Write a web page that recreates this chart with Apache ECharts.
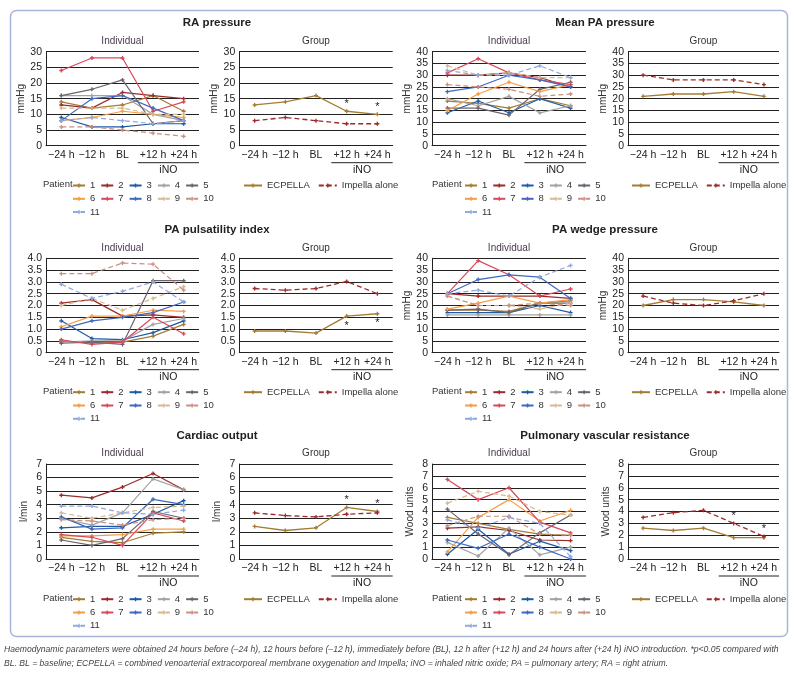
<!DOCTYPE html>
<html><head><meta charset="utf-8">
<script src="https://cdn.jsdelivr.net/npm/echarts@6/dist/echarts.min.js"></script>
<style>html,body{margin:0;padding:0;background:#fff}#c{width:796px;height:679px}</style>
</head><body><div id="c"></div>
<script>
// ---------- DATA ----------
const timepoints = ['\u221224 h', '\u221212 h', 'BL', '+12 h', '+24 h'];
const patientNames = ['1','2','3','4','5','6','7','8','9','10','11'];
const groupNames = ['ECPELLA', 'Impella alone'];

const raPatients = [
  [14,12,13,16,11],[13,12,17,16,15],[9,6,6,7,7],[16,16,16,10,8],[16,18,21,7,8],
  [8,9,11,10,9],[24,28,28,11,14],[8,15,16,12,8],[12,12,12,10,10],[6,6,5,4,3],[8,9,8,7,8]
];
const raEcpella = [13,14,16,11,10];
const raImpella = [8,9,8,7,7];

const mpapPatients = [
  [19,18,16,20,17],[30,30,31,29,25],[14,19,14,20,16],[20,17,21,14,17],[16,16,13,24,27],
  [15,22,27,23,26],[31,37,31,28,26],[23,25,30,28,25],[34,30,31,29,29],[26,25,24,21,22],[32,30,30,34,29]
];
const mpapEcpella = [21,22,22,23,21];
const mpapImpella = [30,28,28,28,26];

const papiPatients = [
  [0.5,0.4,0.45,0.7,1.2],[2.1,2.25,1.55,1.6,1.5],[1.35,0.6,0.55,0.85,1.35],[0.45,0.5,0.5,1.2,1.45],
  [0.4,0.45,0.35,3.05,3.05],[1.1,1.55,1.55,1.8,1.75],[0.55,0.35,0.45,1.5,0.8],[1.0,1.35,1.5,1.7,2.15],
  [2.0,2.3,1.8,2.3,2.8],[3.35,3.35,3.8,3.75,2.65],[2.9,2.3,2.6,3.0,2.15]
];
const papiEcpella = [0.92,0.92,0.83,1.55,1.65];
const papiImpella = [2.72,2.65,2.72,3.02,2.5];

const wedgePatients = [
  [18,18,17.5,21,22],[25,24,24,24,23],[17,17,17,20,17],[16,16,16,16,16],[18,18.5,17,21,21],
  [18.5,21,24,21,22.5],[25,39,33,24,27],[25,31,33,32,23],[24,20,20,18.5,21],[24,20,20,21,20],[25,26.5,24,32,37]
];
const wedgeEcpella = [20,22.5,22.5,21.5,20];
const wedgeImpella = [24,21,20,22,25];

const coPatients = [
  [1.6,1.3,1.2,1.9,2.0],[4.7,4.5,5.3,6.3,5.1],[2.3,2.4,2.4,3.3,4.3],[3.0,2.5,3.4,5.9,5.1],
  [1.4,1.0,1.5,3.5,3.0],[1.7,1.7,1.8,2.2,2.2],[1.8,1.6,1.0,3.4,2.8],[3.1,2.2,2.3,4.4,4.0],
  [3.4,3.0,3.4,3.8,3.9],[2.9,2.8,2.5,2.9,3.0],[3.9,3.9,3.4,3.3,3.6]
];
const coEcpella = [2.4,2.1,2.3,3.8,3.5];
const coImpella = [3.4,3.2,3.1,3.3,3.4];

const pvrPatients = [
  [3.5,3.0,2.5,2.1,2.0],[2.6,2.7,2.4,1.6,1.55],[0.4,2.5,0.4,1.5,0.7],[1.4,0.25,2.6,0.35,1.0],
  [4.2,2.1,0.35,2.2,3.7],[0.6,3.5,5.0,3.2,4.1],[6.7,5.0,6.0,3.1,2.2],[1.6,0.9,2.1,1.0,0.0],
  [4.7,5.7,5.3,4.0,3.7],[2.8,3.6,3.6,2.1,2.0],[3.3,2.6,3.5,3.0,0.2]
];
const pvrEcpella = [2.6,2.4,2.6,1.8,1.8];
const pvrImpella = [3.5,3.9,4.1,3.0,1.9];

// significant (*p<0.05 vs BL) time-point indices
const sigIndices = [3, 4];

// ---------- STYLE / LAYOUT ----------
const FONT = "'Liberation Sans Narrow', 'Liberation Sans', Arial, sans-serif";
const patientColors = ['#a57c35','#9e2b2b','#1e5aa6','#a3a3a3','#6d6370','#f59d45','#d9495b','#3e69c2','#d8b98b','#c98f82','#8fa8dc'];
const patientDashed = [false,false,false,false,false,false,false,false,true,true,true];
const groupColors = ['#a57c35', '#9e2b2b'];
const PLUS = 'path://M2,0h2v2h2v2h-2v2h-2v-2h-2v-2h2z';

const panels = [
  {title:'RA pressure', unit:'mmHg', max:30, interval:5, dec:0, ind:raPatients, ec:raEcpella, im:raImpella, sigSeries:0, sigPos:'top', col:0, row:0},
  {title:'Mean PA pressure', unit:'mmHg', max:40, interval:5, dec:0, ind:mpapPatients, ec:mpapEcpella, im:mpapImpella, sigSeries:-1, col:1, row:0},
  {title:'PA pulsatility index', unit:'', max:4, interval:0.5, dec:1, ind:papiPatients, ec:papiEcpella, im:papiImpella, sigSeries:0, sigPos:'bottom', col:0, row:1},
  {title:'PA wedge pressure', unit:'mmHg', max:40, interval:5, dec:0, ind:wedgePatients, ec:wedgeEcpella, im:wedgeImpella, sigSeries:-1, col:1, row:1},
  {title:'Cardiac output', unit:'l/min', max:7, interval:1, dec:0, ind:coPatients, ec:coEcpella, im:coImpella, sigSeries:0, sigPos:'top', col:0, row:2},
  {title:'Pulmonary vascular resistance', unit:'Wood units', max:8, interval:1, dec:0, ind:pvrPatients, ec:pvrEcpella, im:pvrImpella, sigSeries:1, sigPos:'top', col:1, row:2}
];

const cols = [
  {titleX:217, ind:{left:46, width:153}, grp:{left:239.3, width:153.4}, patientX:43, legLeft:72, grpLegLeft:243},
  {titleX:605, ind:{left:432, width:154}, grp:{left:628, width:151}, patientX:432, legLeft:464, grpLegLeft:631}
];
const rows = [
  {top:51.7, h:94, titleY:23, subY:41, legY:184},
  {top:258.3, h:94.4, titleY:230, subY:248, legY:390.7},
  {top:464, h:95, titleY:436, subY:453.7, legY:597.7}
];

const grid = [], xAxis = [], yAxis = [], series = [], legend = [], graphic = [];

graphic.push({type:'rect', shape:{x:10.5, y:10.5, width:777, height:626, r:6}, style:{fill:'none', stroke:'#a7b6d6', lineWidth:1.5}, z:0});

function addAxes(gi, g, row, p) {
  grid.push({left:g.left, top:row.top, width:g.width, height:row.h, containLabel:false});
  xAxis.push({gridIndex:gi, type:'category', data:timepoints, boundaryGap:true,
    axisLine:{show:true, lineStyle:{color:'#222', width:1}}, axisTick:{show:false},
    axisLabel:{interval:0, fontSize:10.5, color:'#222', margin:4, fontFamily:FONT}});
  yAxis.push({gridIndex:gi, type:'value', min:0, max:p.max, interval:p.interval,
    axisLine:{show:true, lineStyle:{color:'#222', width:1}}, axisTick:{show:false},
    splitLine:{show:true, lineStyle:{color:'#222', width:1}},
    axisLabel:{fontSize:10.5, color:'#222', margin:4, fontFamily:FONT,
      formatter: v => v === 0 ? '0' : v.toFixed(p.dec)},
    name:p.unit, nameLocation:'middle', nameGap:17,
    nameTextStyle:{fontSize:10, color:'#333', fontFamily:FONT}});
  // iNO bracket
  const x1 = g.left + g.width * 3 / 5, x2 = g.left + g.width;
  const ly = row.top + row.h + 17;
  graphic.push({type:'line', shape:{x1:x1, y1:ly, x2:x2, y2:ly}, style:{stroke:'#222', lineWidth:1}});
  graphic.push({type:'text', x:(x1 + x2) / 2, y:ly + 7, style:{text:'iNO', fontSize:10.5, fill:'#222', fontFamily:FONT, align:'center', verticalAlign:'middle'}});
}

panels.forEach((p, pi) => {
  const c = cols[p.col], r = rows[p.row];
  const gi = pi * 2, gg = pi * 2 + 1;
  addAxes(gi, c.ind, r, p);
  addAxes(gg, c.grp, r, p);
  graphic.push({type:'text', x:c.titleX, y:r.titleY, style:{text:p.title, fontSize:11.5, fontWeight:'bold', fill:'#222', fontFamily:FONT, align:'center', verticalAlign:'middle'}});
  graphic.push({type:'text', x:c.ind.left + c.ind.width / 2, y:r.subY, style:{text:'Individual', fontSize:10, fill:'#4a3a50', fontFamily:FONT, align:'center', verticalAlign:'middle'}});
  graphic.push({type:'text', x:c.grp.left + c.grp.width / 2, y:r.subY, style:{text:'Group', fontSize:10, fill:'#333', fontFamily:FONT, align:'center', verticalAlign:'middle'}});
  graphic.push({type:'text', x:c.patientX, y:r.legY + 0.5, style:{text:'Patient', fontSize:9.5, fill:'#333', fontFamily:FONT, align:'left', verticalAlign:'middle'}});

  p.ind.forEach((vals, k) => {
    series.push({type:'line', name:patientNames[k], xAxisIndex:gi, yAxisIndex:gi, data:vals,
      symbol:PLUS, symbolSize:4, showSymbol:true,
      lineStyle:{color:patientColors[k], width:1.2, type:patientDashed[k] ? [5,3] : 'solid'},
      itemStyle:{color:patientColors[k]}, animation:false, silent:true});
  });
  [p.ec, p.im].forEach((vals, k) => {
    const data = vals.map((v, i) => (k === p.sigSeries && sigIndices.includes(i))
      ? {value:v, label:{show:true, formatter:'*', position:p.sigPos, distance:p.sigPos === 'bottom' ? 2 : 0, fontSize:11, color:'#222', fontFamily:FONT}}
      : v);
    series.push({type:'line', name:groupNames[k], xAxisIndex:gg, yAxisIndex:gg, data:data,
      symbol:PLUS, symbolSize:4,
      lineStyle:{color:groupColors[k], width:1.3, type:k === 1 ? [5,3] : 'solid'},
      itemStyle:{color:groupColors[k]}, animation:false, silent:true});
  });

  const legRows = [['1','2','3','4','5'], ['6','7','8','9','10'], ['11']];
  legRows.forEach((names, ri) => {
    legend.push({data:names, left:c.legLeft, top:r.legY + ri * 13.3 - 3.5, width:200, padding:0, itemWidth:12, itemHeight:5, itemGap:5,
      textStyle:{fontSize:9.5, color:'#333', fontFamily:FONT}, selectedMode:false});
  });
  legend.push({data:groupNames, left:c.grpLegLeft, top:r.legY - 3.5, width:300, padding:0, itemWidth:18, itemHeight:5, itemGap:8,
    textStyle:{fontSize:9.5, color:'#333', fontFamily:FONT}, selectedMode:false});
});

// caption
graphic.push({type:'text', x:4, y:650, style:{text:'Haemodynamic parameters were obtained 24 hours before (\u201324 h), 12 hours before (\u201312 h), immediately before (BL), 12 h after (+12 h) and 24 hours after (+24 h) iNO introduction. *p<0.05 compared with', fontSize:8.6, fontStyle:'italic', fill:'#444', fontFamily:FONT, verticalAlign:'middle'}});
graphic.push({type:'text', x:4, y:664, style:{text:'BL. BL = baseline; ECPELLA = combined venoarterial extracorporeal membrane oxygenation and Impella; iNO = inhaled nitric oxide; PA = pulmonary artery; RA = right atrium.', fontSize:8.6, fontStyle:'italic', fill:'#444', fontFamily:FONT, verticalAlign:'middle'}});

const chart = echarts.init(document.getElementById('c'), null, {renderer:'canvas'});
chart.setOption({animation:false, backgroundColor:'#fff', grid, xAxis, yAxis, series, legend, graphic});
</script>
</body></html>
